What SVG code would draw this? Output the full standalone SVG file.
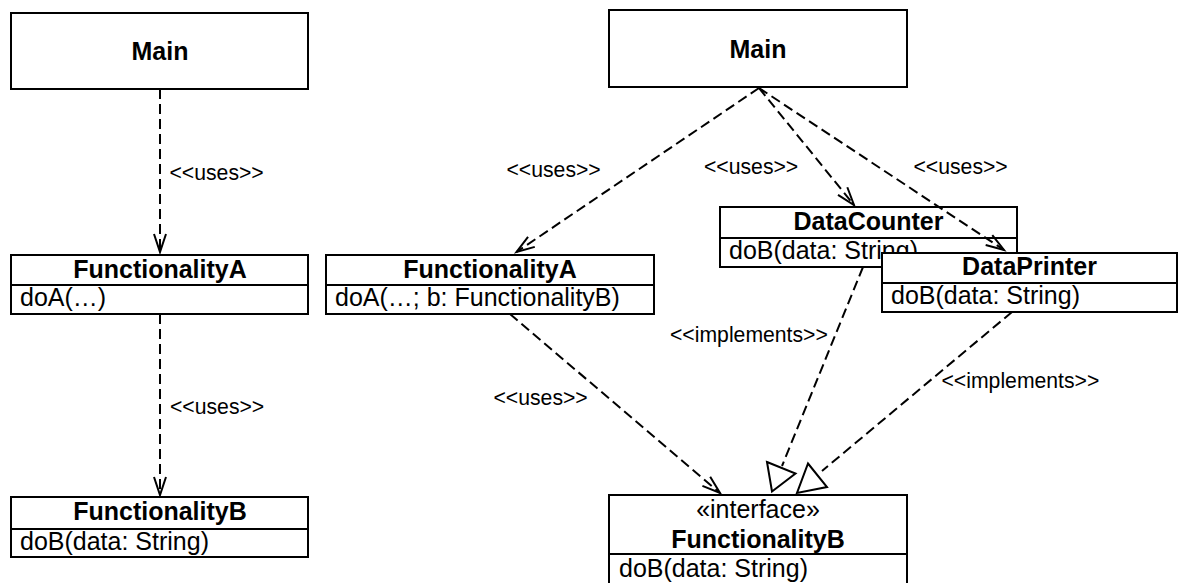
<svg xmlns="http://www.w3.org/2000/svg" width="1179" height="583" viewBox="0 0 1179 583">
<style>
.box{fill:#fff;stroke:#000;stroke-width:2}
.div{stroke:#000;stroke-width:2}
.t{font-family:"Liberation Sans",Arial,sans-serif;font-size:25px;fill:#000}
.b{font-weight:bold;text-anchor:middle}
.c{text-anchor:middle}
.lbl{font-family:"Liberation Sans",Arial,sans-serif;font-size:21.2px;fill:#000}
.dep{fill:none;stroke:#000;stroke-width:2;stroke-dasharray:10 5;marker-end:url(#open)}
.imp{fill:none;stroke:#000;stroke-width:2;stroke-dasharray:10 5}
.tri{fill:#fff;stroke:#000;stroke-width:2;stroke-linejoin:miter}
</style>
<defs>
<marker id="open" markerUnits="userSpaceOnUse" viewBox="-20 -8 24 16" markerWidth="24" markerHeight="16" refX="0" refY="0" orient="auto">
<path d="M-18,-6 L0,0 L-18,6" fill="none" stroke="#000" stroke-width="2" stroke-dasharray="none"/>
</marker>
</defs>
<rect width="1179" height="583" fill="#fff"/>

<g id="main-left">
<rect class="box" x="11" y="13" width="297" height="76"/>
<text class="t b" x="160" y="59.5">Main</text>
</g>
<g id="functionalityA-left">
<rect class="box" x="11" y="255" width="297" height="59"/>
<line class="div" x1="11" y1="285" x2="308" y2="285"/>
<text class="t b" x="160" y="277.5">FunctionalityA</text>
<text class="t" x="20" y="306">doA(…)</text>
</g>
<g id="functionalityB-left">
<rect class="box" x="11" y="497" width="297" height="60"/>
<line class="div" x1="11" y1="529" x2="308" y2="529"/>
<text class="t b" x="160" y="520">FunctionalityB</text>
<text class="t" x="20" y="550">doB(data: String)</text>
</g>

<g id="main-right">
<rect class="box" x="609" y="10" width="298" height="77"/>
<text class="t b" x="758" y="57.5">Main</text>
</g>
<g id="functionalityA-right">
<rect class="box" x="326" y="255" width="328" height="59"/>
<line class="div" x1="326" y1="285" x2="654" y2="285"/>
<text class="t b" x="490" y="277.5">FunctionalityA</text>
<text class="t" x="335" y="306">doA(…; b: FunctionalityB)</text>
</g>
<g id="dataCounter">
<rect class="box" x="720" y="207" width="297" height="60"/>
<line class="div" x1="720" y1="238" x2="1017" y2="238"/>
<text class="t b" x="868.5" y="229.5">DataCounter</text>
<text class="t" x="729" y="259">doB(data: String)</text>
</g>
<g id="dataPrinter">
<rect class="box" x="882" y="253" width="295" height="59"/>
<line class="div" x1="882" y1="283" x2="1177" y2="283"/>
<text class="t b" x="1029.5" y="275">DataPrinter</text>
<text class="t" x="891" y="304">doB(data: String)</text>
</g>
<g id="functionalityB-interface">
<rect class="box" x="609" y="495" width="298" height="100"/>
<line class="div" x1="609" y1="554" x2="907" y2="554"/>
<text class="t c" x="758" y="517.5">«interface»</text>
<text class="t b" x="758" y="548">FunctionalityB</text>
<text class="t" x="619" y="576.5">doB(data: String)</text>
</g>

<g id="connectors">
<line class="dep" x1="160" y1="89" x2="160" y2="252"/>
<text class="lbl" x="169.5" y="180">&lt;&lt;uses&gt;&gt;</text>
<line class="dep" x1="160" y1="314" x2="160" y2="495"/>
<text class="lbl" x="170" y="414">&lt;&lt;uses&gt;&gt;</text>

<line class="dep" x1="759" y1="88" x2="516.5" y2="252"/>
<text class="lbl" x="506.5" y="177">&lt;&lt;uses&gt;&gt;</text>
<line class="dep" x1="759" y1="88" x2="854" y2="205"/>
<text class="lbl" x="704" y="173.5">&lt;&lt;uses&gt;&gt;</text>
<line class="dep" x1="759" y1="88" x2="1004" y2="250"/>
<text class="lbl" x="913.5" y="173.5">&lt;&lt;uses&gt;&gt;</text>

<line class="dep" x1="510" y1="314" x2="720" y2="493"/>
<text class="lbl" x="493.5" y="405">&lt;&lt;uses&gt;&gt;</text>

<line class="imp" x1="863" y1="267" x2="782" y2="466"/>
<polygon class="tri" points="767,462 795.5,473.5 772,491.5"/>
<text class="lbl" x="670" y="342">&lt;&lt;implements&gt;&gt;</text>

<line class="imp" x1="1012" y1="312" x2="822" y2="471"/>
<polygon class="tri" points="808,463.5 827,487 797,493"/>
<text class="lbl" x="941.5" y="388">&lt;&lt;implements&gt;&gt;</text>
</g>
</svg>
